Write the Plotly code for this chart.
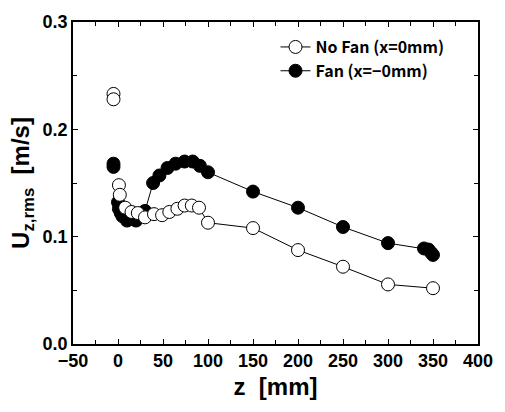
import plotly.graph_objects as go

# No Fan (x=0mm)
nofan_up_z = [-5, -5]
nofan_up_u = [0.233, 0.228]
nofan_z = [1, 2, 8, 15, 22, 30, 40, 49, 57, 66, 74, 82, 90, 100, 150, 200, 250, 300, 350]
nofan_u = [0.148, 0.139, 0.127, 0.123, 0.122, 0.118, 0.121, 0.120, 0.123, 0.126, 0.129, 0.129, 0.127,
           0.113, 0.108, 0.0875, 0.072, 0.0555, 0.052]

# Fan (x=-0mm)
fan_up_z = [-5, -5]
fan_up_u = [0.168, 0.165]
fan_z = [0, 1, 3, 5, 10, 20, 30, 39, 46, 55, 64, 74, 83, 91, 100, 150, 200, 250, 300, 340, 345, 348, 350]
fan_u = [0.132, 0.126, 0.122, 0.119, 0.115, 0.115, 0.124, 0.150, 0.157, 0.164, 0.168, 0.170, 0.170,
         0.166, 0.160, 0.142, 0.127, 0.109, 0.094, 0.089, 0.088, 0.085, 0.083]

x_ticks = [-50, 0, 50, 100, 150, 200, 250, 300, 350, 400]
y_ticks = [0.0, 0.1, 0.2, 0.3]
y_ticklabels = ["0.0", "0.1", "0.2", "0.3"]

open_marker = dict(symbol="circle", size=13, color="white", line=dict(color="black", width=1))
fill_marker = dict(symbol="circle", size=13, color="black", line=dict(color="black", width=1))

fig = go.Figure()
fig.add_trace(go.Scatter(x=nofan_up_z, y=nofan_up_u, mode="markers", marker=open_marker,
                         showlegend=False))
fig.add_trace(go.Scatter(x=fan_up_z, y=fan_up_u, mode="markers", marker=fill_marker,
                         showlegend=False))
fig.add_trace(go.Scatter(x=fan_z, y=fan_u, mode="lines+markers", name="<b>Fan (x=\u22120mm)</b>",
                         line=dict(color="black", width=1), marker=fill_marker))
fig.add_trace(go.Scatter(x=nofan_z, y=nofan_u, mode="lines+markers", name="<b>No Fan (x=0mm)</b>",
                         line=dict(color="black", width=1), marker=open_marker))

axis_common = dict(showline=True, linecolor="black", linewidth=1.5, mirror="allticks",
                   ticks="inside", ticklen=5, tickcolor="black", showgrid=False, zeroline=False,
                   tickfont=dict(family="Liberation Sans, Arial", size=18, color="black", weight="bold"))

fig.update_xaxes(range=[-50, 400], tickvals=x_ticks, ticktext=[str(v).replace("-", "\u2212") for v in x_ticks],
                 minor=dict(ticks="inside", ticklen=4, tickcolor="black", dtick=25),
                 title=dict(text="z  [mm]",
                            font=dict(family="Liberation Sans, Arial", size=24, color="black", weight="bold"),
                            standoff=8),
                 **axis_common)
fig.update_yaxes(range=[0, 0.3], tickvals=y_ticks, ticktext=y_ticklabels,
                 minor=dict(ticks="inside", ticklen=4, tickcolor="black", dtick=0.05),
                 title=dict(text="U<sub>z,rms</sub>  [m/s]",
                            font=dict(family="Liberation Sans, Arial", size=24, color="black", weight="bold"),
                            standoff=6),
                 **axis_common)

fig.update_layout(
    width=505, height=412,
    margin=dict(l=73, r=17, t=16, b=68),
    plot_bgcolor="white", paper_bgcolor="white",
    legend=dict(x=0.5, y=0.975, xanchor="left", yanchor="top", traceorder="reversed",
                bgcolor="rgba(0,0,0,0)", borderwidth=0,
                font=dict(family="Noto Sans CJK KR", size=16, color="black"),
                itemwidth=30, tracegroupgap=0),
)

fig.write_html("out.html")
